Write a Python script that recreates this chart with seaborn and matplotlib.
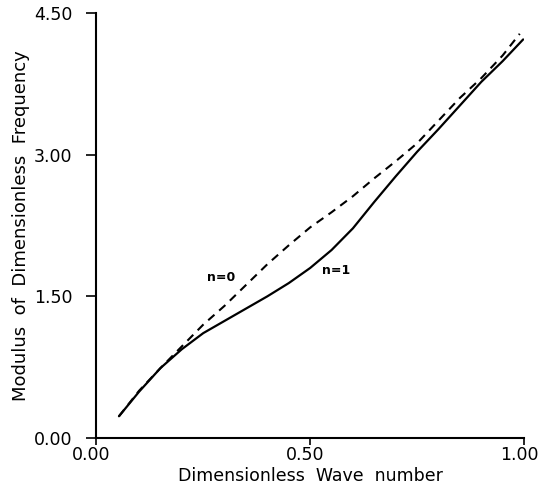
import numpy as np
import pandas as pd
import matplotlib
matplotlib.use("Agg")
import matplotlib.pyplot as plt
import matplotlib.transforms as mtransforms
import seaborn as sns

# ── data ──────────────────────────────────────────────────────────────────────
k_n1 = [0.053, 0.10, 0.15, 0.20, 0.25, 0.30, 0.35, 0.40, 0.45, 0.50,
        0.55, 0.60, 0.65, 0.70, 0.75, 0.80, 0.85, 0.90, 0.95, 0.998]
w_n1 = [0.23, 0.49, 0.74, 0.94, 1.11, 1.24, 1.37, 1.50, 1.64, 1.80,
        1.99, 2.22, 2.50, 2.77, 3.03, 3.27, 3.52, 3.77, 3.99, 4.22]

k_n0 = [0.053, 0.10, 0.15, 0.20, 0.25, 0.30, 0.35, 0.40, 0.45, 0.50,
        0.55, 0.60, 0.65, 0.70, 0.75, 0.80, 0.85, 0.90, 0.95, 0.99]
w_n0 = [0.23, 0.50, 0.74, 0.97, 1.20, 1.40, 1.62, 1.84, 2.04, 2.23,
        2.39, 2.56, 2.75, 2.93, 3.12, 3.36, 3.60, 3.81, 4.05, 4.28]

x_ticks = [0.0, 0.5, 1.0]
y_ticks = [0.0, 1.5, 3.0, 4.5]

sns.set_theme(style="ticks")
plt.rcParams["font.family"] = ["DejaVu Sans"]
plt.rcParams["text.color"] = "black"
plt.rcParams["axes.labelcolor"] = "black"

df1 = pd.DataFrame({"k": k_n1, "w": w_n1})
df0 = pd.DataFrame({"k": k_n0, "w": w_n0})

fig = plt.figure(figsize=(5.41, 4.92), dpi=100)
ax = fig.add_axes([0.178, 0.1098, 0.7906, 0.8638])

sns.lineplot(data=df0, x="k", y="w", ax=ax, color="black", lw=1.5,
             linestyle=(0, (4, 3)), sort=False)
sns.lineplot(data=df1, x="k", y="w", ax=ax, color="black", lw=1.6, sort=False)

ax.text(0.291, 1.70, "n=0", fontsize=9, fontweight="bold", ha="center", va="center")
ax.text(0.56, 1.77, "n=1", fontsize=9, fontweight="bold", ha="center", va="center")

ax.set_xlim(0, 1.0)
ax.set_ylim(0, 4.5)
ax.set_xticks(x_ticks)
ax.set_yticks(y_ticks)
ax.set_xticklabels([f"{v:.2f}" for v in x_ticks])
ax.set_yticklabels([f"{v:.2f}" for v in y_ticks])
ax.tick_params(axis="y", length=7, width=1.2, pad=10, labelsize=12.5,
               colors="black")
ax.tick_params(axis="x", length=5, width=1.2, pad=1, labelsize=12.5,
               colors="black")

# nudge x tick labels a little to the left, as in the original
shift = mtransforms.ScaledTranslation(-5 / 100, 0, fig.dpi_scale_trans)
for lab in ax.get_xticklabels():
    lab.set_transform(lab.get_transform() + shift)

ax.set_xlabel("Dimensionless  Wave  number", fontsize=12.5, labelpad=2)
ax.set_ylabel("Modulus  of  Dimensionless  Frequency", fontsize=13, labelpad=3)

sns.despine(ax=ax)
for s in ["left", "bottom"]:
    ax.spines[s].set_linewidth(1.5)
    ax.spines[s].set_color("black")

fig.savefig("out.png", dpi=100, facecolor="white")
plt.close(fig)
